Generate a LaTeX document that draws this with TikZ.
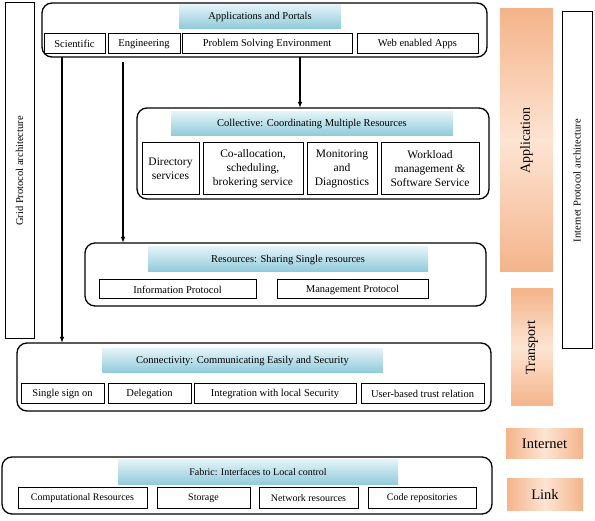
\documentclass[tikz,border=0pt]{standalone}
\usepackage{fontspec}
\setmainfont{Liberation Serif}
\usetikzlibrary{arrows.meta,calc}
\definecolor{tealtop}{HTML}{E2F3F7}
\definecolor{tealbot}{HTML}{8FCADA}
\definecolor{orgdark}{HTML}{F4B48A}
\definecolor{orglight}{HTML}{FDE4D3}
\begin{document}
\begin{tikzpicture}[x=1pt,y=-1pt,
 frame/.style={draw, line width=1.3pt, rounded corners=10pt, inner sep=0pt, outer sep=0pt},
 sub/.style={draw, line width=1pt, inner sep=1pt, outer sep=0pt, align=center, font=\fontsize{10.5}{12}\selectfont},
 bigsub/.style={sub, font=\fontsize{11.5}{14}\selectfont},
 ttl/.style={inner sep=0pt, outer sep=0pt, top color=tealtop, bottom color=tealbot, font=\fontsize{10.5}{12}\selectfont},
 side/.style={draw, line width=1pt, inner sep=0pt, outer sep=0pt, rotate=90, font=\fontsize{10.5}{12}\selectfont},
 vlayer/.style={inner sep=0pt, outer sep=0pt, rotate=90, top color=orgdark, bottom color=orgdark, middle color=orglight, font=\fontsize{14}{16}\selectfont},
 hlayer/.style={inner sep=0pt, outer sep=0pt, left color=orgdark, right color=orgdark, middle color=orglight, font=\fontsize{14.5}{16}\selectfont},
 arr/.style={line width=1.1pt, -{Latex[length=6pt,width=4.5pt]}}]
\useasboundingbox (0,0) rectangle (595,521);

% side boxes
\node[side, minimum width=336, minimum height=29] (grid) at (19.5,171) {Grid Protocol architecture};
\node[side, minimum width=337, minimum height=30] (ipa) at (577,180.5) {Internet Protocol architecture};
\node[vlayer, minimum width=263, minimum height=53] (appl) at (526.5,140.5) {Application};
\node[vlayer, minimum width=117, minimum height=42] (trans) at (532,347.5) {Transport};
\node[hlayer, minimum width=77, minimum height=30] (inet) at (544.5,444) {Internet};
\node[hlayer, minimum width=76, minimum height=31] (link) at (545,494.5) {Link};

% Applications and Portals
\node[frame, minimum width=445, minimum height=54] (top) at (264.5,30) {};
\node[ttl, minimum width=162, minimum height=24] (toptl) at (260,17) {Applications and Portals};
\node[sub, minimum width=61, minimum height=20] (sci) at (74.5,44) {Scientific};
\node[sub, minimum width=72, minimum height=20] (eng) at (144,44) {Engineering};
\node[sub, minimum width=170, minimum height=20] (pse) at (267,44) {Problem Solving Environment};
\node[sub, minimum width=121, minimum height=20] (web) at (417.5,44) {Web enabled Apps};

% Collective
\node[frame, minimum width=352, minimum height=91] (coll) at (313,153.5) {};
\node[ttl, minimum width=282, minimum height=24] (colltl) at (312,124) {Collective: Coordinating Multiple Resources};
\node[bigsub, minimum width=57, minimum height=52] (dir) at (170.5,169) {Directory\\services};
\node[bigsub, minimum width=100, minimum height=52] (coal) at (253,169) {Co-allocation,\\scheduling,\\brokering service};
\node[bigsub, minimum width=70, minimum height=52] (mon) at (342,169) {Monitoring\\and\\Diagnostics};
\node[bigsub, minimum width=98, minimum height=52] (work) at (430,169) {Workload\\management \&\\Software Service};

% Resources
\node[frame, minimum width=401, minimum height=63] (res) at (285.5,274.5) {};
\node[ttl, minimum width=280, minimum height=25] (restl) at (288,259.5) {Resources: Sharing Single resources};
\node[sub, minimum width=157, minimum height=19] (info) at (177.5,289.5) {Information Protocol};
\node[sub, minimum width=151, minimum height=19] (mgmt) at (352.5,289.5) {Management Protocol};

% Connectivity
\node[frame, minimum width=474, minimum height=68] (conn) at (254,377) {};
\node[ttl, minimum width=281, minimum height=24] (conntl) at (242.5,361) {Connectivity: Communicating Easily and Security};
\node[sub, minimum width=83, minimum height=20] (sso) at (62.5,394) {Single sign on};
\node[sub, minimum width=83, minimum height=20] (deleg) at (149.5,394) {Delegation};
\node[sub, minimum width=162, minimum height=20] (integ) at (275,394) {Integration with local Security};
\node[sub, minimum width=123, minimum height=20] (user) at (422.5,394) {User-based trust relation};

% Fabric
\node[frame, minimum width=490, minimum height=57] (fab) at (247,485.5) {};
\node[ttl, minimum width=280, minimum height=25, font=\fontsize{10}{12}\selectfont] (fabtl) at (258,472.5) {Fabric: Interfaces to Local control};
\node[sub, minimum width=129, minimum height=20, font=\fontsize{10}{12}\selectfont] (comp) at (82.5,498) {Computational Resources};
\node[sub, minimum width=93, minimum height=20, font=\fontsize{10}{12}\selectfont] (stor) at (203.5,498) {Storage};
\node[sub, minimum width=99, minimum height=20, font=\fontsize{10}{12}\selectfont] (netw) at (308.5,498) {Network resources};
\node[sub, minimum width=108, minimum height=20, font=\fontsize{10}{12}\selectfont] (code) at (422,498) {Code repositories};

% arrows
\draw[arr] (top.south -| 62,0) -- (conn.north -| 62,0);
\draw[arr] ([yshift=-8pt]eng.south -| 123,0) -- (res.north -| 123,0);
\draw[arr] (top.south -| 300,0) -- (coll.north -| 300,0);
\end{tikzpicture}
\end{document}
